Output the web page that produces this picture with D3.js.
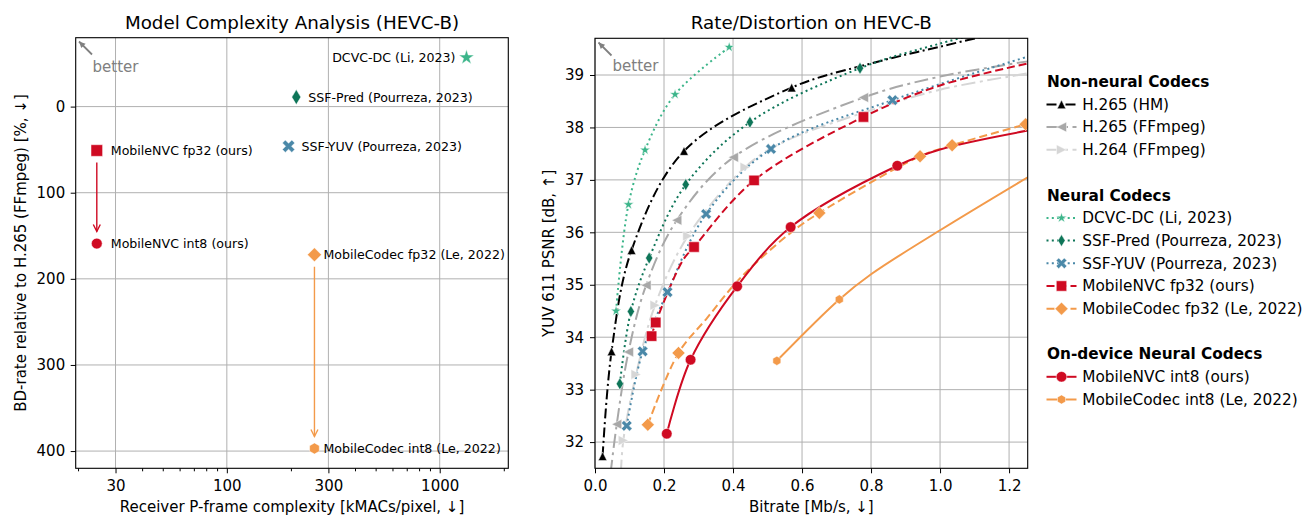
<!DOCTYPE html>
<html>
<head>
<meta charset="utf-8">
<script src="https://cdn.jsdelivr.net/npm/d3@7"></script>
<style>
body { margin: 0; background: #fff; }
svg { display: block; font-family: "DejaVu Sans", sans-serif; }
</style>
</head>
<body>
<svg id="fig" width="1310" height="515"></svg>
<script>
// ---------------- left panel: complexity vs BD-rate ----------------
var codecNames = ["MobileNVC fp32 (ours)", "MobileNVC int8 (ours)", "DCVC-DC (Li, 2023)",
  "SSF-Pred (Pourreza, 2023)", "SSF-YUV (Pourreza, 2023)",
  "MobileCodec fp32 (Le, 2022)", "MobileCodec int8 (Le, 2022)"];
var codecKMACs = [24.5, 24.5, 1336, 212, 195, 258, 258];
var codecBDRate = [51, 159, -57, -11, 46, 172, 397];
var quantPairs = [[0, 1], [5, 6]];           // fp32 -> int8 arrows
var complexityTicks = [30, 100, 300, 1000];
var complexityMinor = [20, 40, 50, 60, 70, 80, 90, 200, 400, 500, 600, 700, 800, 900, 2000];
var bdTicks = [0, 100, 200, 300, 400];

// ---------------- right panel: rate / distortion ----------------
var rdNames = ["H.265 (HM)", "H.265 (FFmpeg)", "H.264 (FFmpeg)", "DCVC-DC (Li, 2023)",
  "SSF-Pred (Pourreza, 2023)", "SSF-YUV (Pourreza, 2023)", "MobileNVC fp32 (ours)",
  "MobileCodec fp32 (Le, 2022)", "MobileNVC int8 (ours)", "MobileCodec int8 (Le, 2022)"];
var rdRate = [
  [0.022, 0.048, 0.106, 0.258, 0.570],
  [0.063, 0.097, 0.148, 0.237, 0.401, 0.778],
  [0.082, 0.119, 0.174, 0.269, 0.435],
  [0.061, 0.097, 0.145, 0.232, 0.389],
  [0.072, 0.104, 0.157, 0.263, 0.449, 0.768],
  [0.092, 0.138, 0.210, 0.322, 0.510, 0.862],
  [0.164, 0.176, 0.287, 0.461, 0.778],
  [0.153, 0.242, 0.650, 0.942, 1.035, 1.248],
  [0.208, 0.277, 0.412, 0.567, 0.876],
  [0.527, 0.708]
];
var rdPsnr = [
  [31.73, 33.73, 35.66, 37.55, 38.76],
  [32.34, 33.72, 34.99, 36.23, 37.43, 38.57],
  [32.03, 33.29, 34.61, 35.93, 37.24],
  [34.50, 36.53, 37.57, 38.63, 39.53],
  [33.11, 34.49, 35.51, 36.91, 38.10, 39.13],
  [32.31, 33.73, 34.86, 36.35, 37.59, 38.52],
  [34.02, 34.28, 35.72, 36.99, 38.20],
  [32.33, 33.70, 36.37, 37.45, 37.66, 38.06],
  [32.16, 33.57, 34.97, 36.10, 37.27],
  [33.55, 34.72]
];
// where the fitted curves run past / between the markers
var curveRate = [
  [0.8, 1.0, 1.2],
  [0.045, 1.0, 1.254],
  [0.075, 0.536, 0.8, 1.0, 1.254],
  [],
  [1.0, 1.15],
  [1.254],
  [0.255, 1.0, 1.254],
  [0.324, 0.42, 0.565],
  [1.0, 1.254],
  [0.8, 1.0, 1.254]
];
var curvePsnr = [
  [39.22, 39.54, 39.85],
  [31.40, 38.97, 39.26],
  [31.40, 37.69, 38.33, 38.72, 39.03],
  [],
  [39.60, 39.85],
  [39.35],
  [35.47, 38.80, 39.22],
  [34.36, 35.12, 35.98],
  [37.58, 37.94],
  [35.20, 36.04, 37.05]
];
var rateTicks = [0, 0.2, 0.4, 0.6, 0.8, 1.0, 1.2];
var psnrTicks = [32, 33, 34, 35, 36, 37, 38, 39];
var legendGroups = [[0, "Non-neural Codecs"], [3, "Neural Codecs"], [8, "On-device Neural Codecs"]];

// ---------------- styles ----------------
var RED = "#cf0a22", ORANGE = "#f39a4a";
var rdStyle = [
  {color: "#000000", dash: "10,3.5,2,3.5", marker: "triUp", r: 4.3},
  {color: "#a8a8a8", dash: "14,4.5,3,4.5", marker: "triLeft", r: 5},
  {color: "#d6d6d6", dash: "14,4.5,3,4.5", marker: "triRight", r: 5},
  {color: "#3cb58a", dash: "2,3.3", marker: "star", r: 5.5},
  {color: "#0e7558", dash: "2,3.3", marker: "thinDiamond", r: 6},
  {color: "#4a88a8", dash: "2,3.3", marker: "X", r: 5},
  {color: RED, dash: "8,4", marker: "square", r: 5.2},
  {color: ORANGE, dash: "8,4", marker: "diamond", r: 6.5},
  {color: RED, dash: null, marker: "circle", r: 5.3},
  {color: ORANGE, dash: null, marker: "hexagon", r: 4.6}
];
var codecStyle = [
  {color: RED, marker: "square", r: 5.8, dx: 14, anchor: "start"},
  {color: RED, marker: "circle", r: 5.4, dx: 14, anchor: "start"},
  {color: "#3cb58a", marker: "star", r: 8, dx: -11, anchor: "end"},
  {color: "#0e7558", marker: "thinDiamond", r: 7.5, dx: 12, anchor: "start"},
  {color: "#4a88a8", marker: "X", r: 5.8, dx: 13, anchor: "start"},
  {color: ORANGE, marker: "diamond", r: 7, dx: 9, anchor: "start"},
  {color: ORANGE, marker: "hexagon", r: 5.6, dx: 9, anchor: "start"}
];

function markerPath(type, r) {
  var pts;
  switch (type) {
    case "circle": return d3.symbol(d3.symbolCircle, Math.PI * r * r)();
    case "square": pts = [[-r, -r], [r, -r], [r, r], [-r, r]]; break;
    case "diamond": pts = [[0, -r], [r, 0], [0, r], [-r, 0]]; break;
    case "thinDiamond": pts = [[0, -r], [0.6 * r, 0], [0, r], [-0.6 * r, 0]]; break;
    case "triUp": pts = [[0, -r], [r, r], [-r, r]]; break;
    case "triLeft": pts = [[-r, 0], [r, -r], [r, r]]; break;
    case "triRight": pts = [[r, 0], [-r, -r], [-r, r]]; break;
    case "star":
      pts = d3.range(10).map(function(i) {
        var a = -Math.PI / 2 + i * Math.PI / 5, k = i % 2 ? 0.382 * r : r;
        return [k * Math.cos(a), k * Math.sin(a)];
      });
      break;
    case "hexagon":
      pts = d3.range(6).map(function(i) {
        var a = -Math.PI / 2 + i * Math.PI / 3;
        return [r * Math.cos(a), r * Math.sin(a)];
      });
      break;
    case "X":
      var w = 0.36 * r, L = 1.15 * r;
      var plus = [[-w, -L], [w, -L], [w, -w], [L, -w], [L, w], [w, w], [w, L], [-w, L], [-w, w], [-L, w], [-L, -w], [-w, -w]];
      var c = Math.SQRT1_2;
      pts = plus.map(function(p) { return [c * (p[0] - p[1]), c * (p[0] + p[1])]; });
      break;
  }
  return "M" + pts.map(function(p) { return p[0].toFixed(2) + "," + p[1].toFixed(2); }).join("L") + "Z";
}

var svg = d3.select("#fig");
svg.append("rect").attr("width", 1310).attr("height", 515).attr("fill", "#fff");
var defs = svg.append("defs");
var GRID = "#b0b0b0";

function frame(g, x0, y0, w, h) {
  g.append("rect").attr("x", x0).attr("y", y0).attr("width", w).attr("height", h)
    .attr("fill", "none").attr("stroke", "#000").attr("stroke-width", 1.1);
}
function styleAxis(sel) {
  sel.select(".domain").remove();
  sel.selectAll("line").attr("stroke", "#000").attr("stroke-width", 1);
  sel.selectAll("text").attr("font-size", 15).attr("fill", "#000").attr("font-family", "DejaVu Sans");
}
function betterArrow(g, tipX, tipY, tailX, tailY, tx, ty) {
  g.append("line").attr("x1", tailX).attr("y1", tailY).attr("x2", tipX).attr("y2", tipY)
    .attr("stroke", "#808080").attr("stroke-width", 1.8);
  var ang = Math.atan2(tailY - tipY, tailX - tipX);
  var hp = [-0.45, 0.45].map(function(d) {
    return [tipX + 7 * Math.cos(ang + d), tipY + 7 * Math.sin(ang + d)];
  });
  g.append("path").attr("d", "M" + hp[0] + "L" + tipX + "," + tipY + "L" + hp[1] + "Z")
    .attr("fill", "#808080");
  g.append("text").attr("x", tx).attr("y", ty).attr("font-size", 15).attr("fill", "#808080").text("better");
}

// ======================= LEFT PANEL =======================
var L = {x0: 75.7, x1: 508.3, y0: 37.7, y1: 468.3};
var lx = d3.scaleLog().domain([19.5, 2100]).range([L.x0, L.x1]);
var ly = d3.scaleLinear().domain([-80, 420]).range([L.y0, L.y1]);
var left = svg.append("g");

left.append("g").selectAll("line").data(complexityTicks).join("line")
  .attr("x1", function(d) { return lx(d); }).attr("x2", function(d) { return lx(d); })
  .attr("y1", L.y0).attr("y2", L.y1).attr("stroke", GRID).attr("stroke-width", 1);
left.append("g").selectAll("line").data(bdTicks).join("line")
  .attr("y1", function(d) { return ly(d); }).attr("y2", function(d) { return ly(d); })
  .attr("x1", L.x0).attr("x2", L.x1).attr("stroke", GRID).attr("stroke-width", 1);

left.append("g").attr("transform", "translate(0," + L.y1 + ")")
  .call(d3.axisBottom(lx).tickValues(complexityTicks).tickFormat(d3.format("d")).tickSize(5).tickPadding(7.5))
  .call(styleAxis);
left.append("g").attr("transform", "translate(0," + L.y1 + ")")
  .call(d3.axisBottom(lx).tickValues(complexityMinor).tickFormat("").tickSize(3))
  .call(styleAxis);
left.append("g").attr("transform", "translate(" + L.x0 + ",0)")
  .call(d3.axisLeft(ly).tickValues(bdTicks).tickFormat(d3.format("d")).tickSize(5).tickPadding(5.5))
  .call(styleAxis);
frame(left, L.x0, L.y0, L.x1 - L.x0, L.y1 - L.y0);

left.append("text").attr("x", (L.x0 + L.x1) / 2).attr("y", 23).attr("dy", "0.35em")
  .attr("text-anchor", "middle").attr("font-size", 18.3).text("Model Complexity Analysis (HEVC-B)");
left.append("text").attr("x", (L.x0 + L.x1) / 2).attr("y", 507).attr("dy", "0.35em")
  .attr("text-anchor", "middle").attr("font-size", 15).text("Receiver P-frame complexity [kMACs/pixel, \u2193]");
left.append("text").attr("transform", "translate(21," + (L.y0 + L.y1) / 2 + ") rotate(-90)")
  .attr("dy", "0.35em").attr("text-anchor", "middle").attr("font-size", 15)
  .text("BD-rate relative to H.265 (FFmpeg) [%, \u2193]");

betterArrow(left, 79, 41.5, 92, 54.5, 92.5, 71.5);

// quantisation arrows
quantPairs.forEach(function(p) {
  var c = codecStyle[p[0]].color;
  var x = lx(codecKMACs[p[0]]), ya = ly(codecBDRate[p[0]]) + 12, yb = ly(codecBDRate[p[1]]) - 12;
  left.append("line").attr("x1", x).attr("x2", x).attr("y1", ya).attr("y2", yb)
    .attr("stroke", c).attr("stroke-width", 1.4);
  left.append("path").attr("d", "M" + (x - 3.5) + "," + (yb - 7) + "L" + x + "," + yb + "L" + (x + 3.5) + "," + (yb - 7))
    .attr("fill", "none").attr("stroke", c).attr("stroke-width", 1.4);
});

var pts = left.append("g").selectAll("g").data(codecNames).join("g")
  .attr("transform", function(d, i) { return "translate(" + lx(codecKMACs[i]) + "," + ly(codecBDRate[i]) + ")"; });
pts.append("path")
  .attr("d", function(d, i) { return markerPath(codecStyle[i].marker, codecStyle[i].r); })
  .attr("fill", function(d, i) { return codecStyle[i].color; })
  .attr("stroke", "#fff").attr("stroke-width", 0.5);
pts.append("text")
  .attr("x", function(d, i) { return codecStyle[i].dx; })
  .attr("dy", "0.35em").attr("font-size", 12.6)
  .attr("text-anchor", function(d, i) { return codecStyle[i].anchor; })
  .text(function(d) { return d; });

// ======================= RIGHT PANEL =======================
var R = {x0: 595, x1: 1027.7, y0: 38.3, y1: 468.3};
var rx = d3.scaleLinear().domain([0, 1.254]).range([R.x0, R.x1]);
var ry = d3.scaleLinear().domain([31.5, 39.7]).range([R.y1, R.y0]);
var right = svg.append("g");

defs.append("clipPath").attr("id", "rdclip").append("rect")
  .attr("x", R.x0).attr("y", R.y0).attr("width", R.x1 - R.x0).attr("height", R.y1 - R.y0);

right.append("g").selectAll("line").data(rateTicks).join("line")
  .attr("x1", function(d) { return rx(d); }).attr("x2", function(d) { return rx(d); })
  .attr("y1", R.y0).attr("y2", R.y1).attr("stroke", GRID).attr("stroke-width", 1);
right.append("g").selectAll("line").data(psnrTicks).join("line")
  .attr("y1", function(d) { return ry(d); }).attr("y2", function(d) { return ry(d); })
  .attr("x1", R.x0).attr("x2", R.x1).attr("stroke", GRID).attr("stroke-width", 1);

right.append("g").attr("transform", "translate(0," + R.y1 + ")")
  .call(d3.axisBottom(rx).tickValues(rateTicks).tickFormat(d3.format(".1f")).tickSize(5).tickPadding(7.5))
  .call(styleAxis);
right.append("g").attr("transform", "translate(" + R.x0 + ",0)")
  .call(d3.axisLeft(ry).tickValues(psnrTicks).tickFormat(d3.format("d")).tickSize(5).tickPadding(6))
  .call(styleAxis);

right.append("text").attr("x", (R.x0 + R.x1) / 2).attr("y", 23).attr("dy", "0.35em")
  .attr("text-anchor", "middle").attr("font-size", 18.3).text("Rate/Distortion on HEVC-B");
right.append("text").attr("x", (R.x0 + R.x1) / 2).attr("y", 507).attr("dy", "0.35em")
  .attr("text-anchor", "middle").attr("font-size", 15).text("Bitrate [Mb/s, \u2193]");
right.append("text").attr("transform", "translate(549," + (R.y0 + R.y1) / 2 + ") rotate(-90)")
  .attr("dy", "0.35em").attr("text-anchor", "middle").attr("font-size", 15)
  .text("YUV 611 PSNR [dB, \u2191]");

betterArrow(right, 598.5, 42.5, 611.5, 55.5, 612.5, 71);

var plot = right.append("g").attr("clip-path", "url(#rdclip)");
var line = d3.line().x(function(d) { return rx(d[0]); }).y(function(d) { return ry(d[1]); })
  .curve(d3.curveCatmullRom.alpha(0.5));

rdNames.forEach(function(name, i) {
  var p = rdRate[i].map(function(r, j) { return [r, rdPsnr[i][j]]; })
    .concat(curveRate[i].map(function(r, j) { return [r, curvePsnr[i][j]]; }))
    .sort(function(a, b) { return a[0] - b[0]; });
  plot.append("path").attr("d", line(p)).attr("fill", "none")
    .attr("stroke", rdStyle[i].color).attr("stroke-width", 2)
    .attr("stroke-dasharray", rdStyle[i].dash);
});
rdNames.forEach(function(name, i) {
  plot.append("g").selectAll("path").data(rdRate[i]).join("path")
    .attr("transform", function(r, j) { return "translate(" + rx(r) + "," + ry(rdPsnr[i][j]) + ")"; })
    .attr("d", markerPath(rdStyle[i].marker, rdStyle[i].r))
    .attr("fill", rdStyle[i].color).attr("stroke", "#fff").attr("stroke-width", 0.5);
});
frame(right, R.x0, R.y0, R.x1 - R.x0, R.y1 - R.y0);

// ---------------- legend ----------------
var legend = svg.append("g");
var rowY = 81.7, STEP = 22.7;
rdNames.forEach(function(name, i) {
  legendGroups.forEach(function(gp) {
    if (gp[0] === i) {
      if (i > 0) rowY += STEP;
      legend.append("text").attr("x", 1047).attr("y", rowY).attr("dy", "0.35em")
        .attr("font-size", 15.3).attr("font-weight", "bold").text(gp[1]);
      rowY += STEP;
    }
  });
  legend.append("line").attr("x1", 1046.5).attr("x2", 1076.5).attr("y1", rowY).attr("y2", rowY)
    .attr("stroke", rdStyle[i].color).attr("stroke-width", 2).attr("stroke-dasharray", rdStyle[i].dash);
  legend.append("path").attr("transform", "translate(1061.5," + rowY + ")")
    .attr("d", markerPath(rdStyle[i].marker, rdStyle[i].r))
    .attr("fill", rdStyle[i].color).attr("stroke", "#fff").attr("stroke-width", 0.5);
  legend.append("text").attr("x", 1082.3).attr("y", rowY).attr("dy", "0.35em")
    .attr("font-size", 15.3).text(name);
  rowY += STEP;
});
</script>
</body>
</html>
